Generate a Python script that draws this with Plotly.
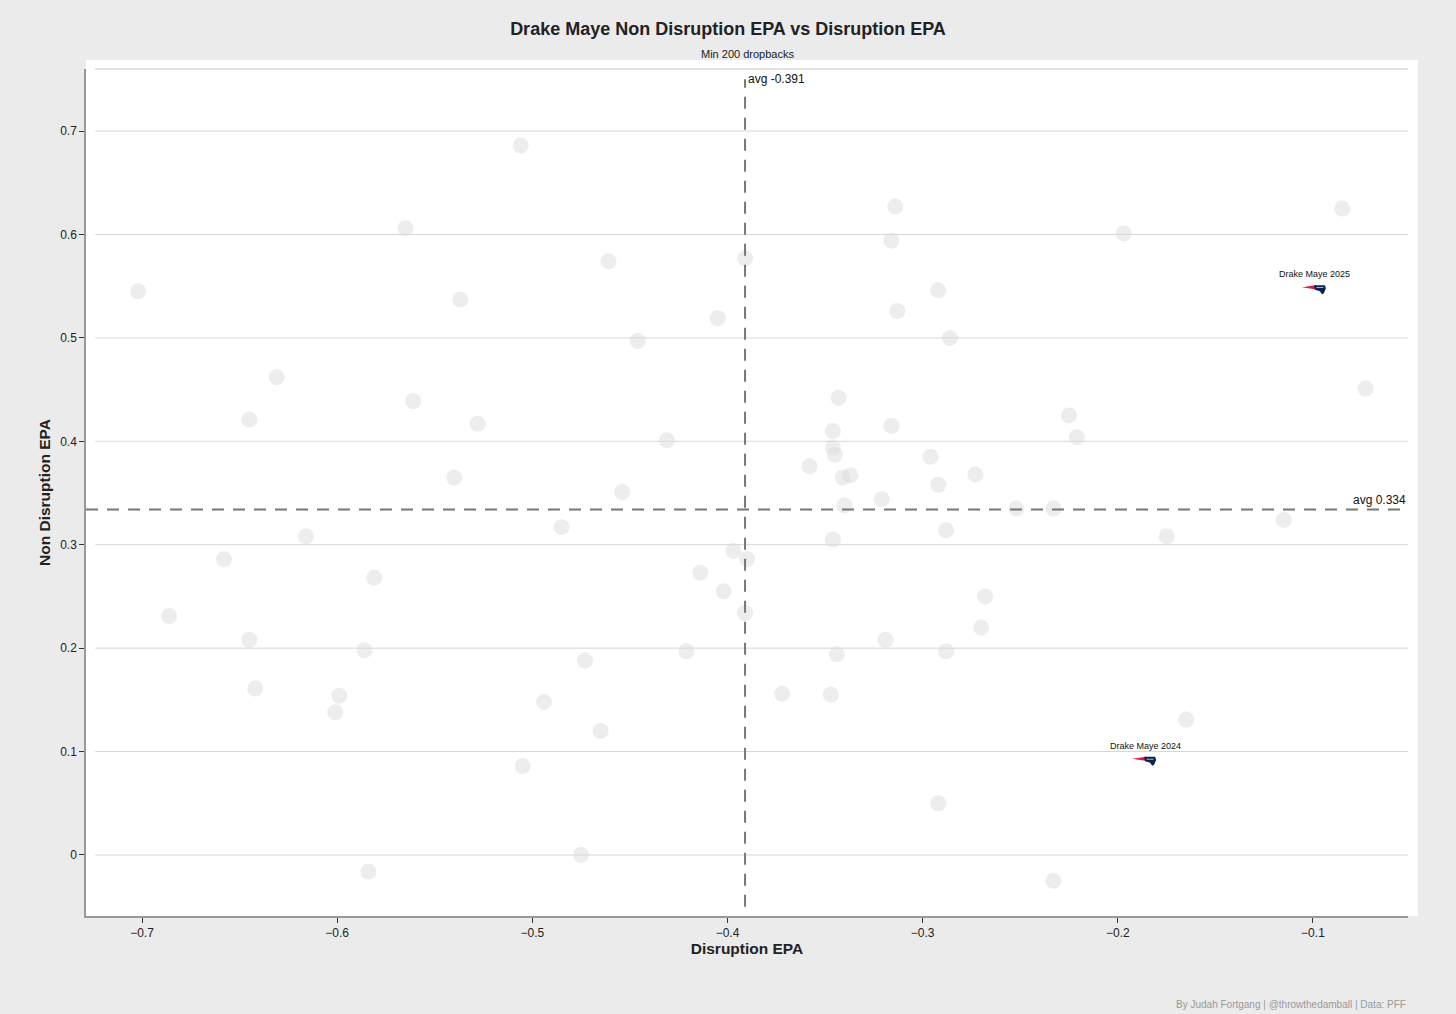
import plotly.graph_objects as go

# league QBs, min 200 dropbacks
disruption_epa = [
    -0.702, -0.686, -0.658, -0.645, -0.645, -0.642, -0.631, -0.616, -0.599, -0.601,
    -0.586, -0.584, -0.581, -0.565, -0.561, -0.540, -0.537, -0.528, -0.506, -0.505,
    -0.494, -0.485, -0.475, -0.473, -0.465, -0.461, -0.454, -0.446, -0.431, -0.421,
    -0.414, -0.405, -0.402, -0.397, -0.391, -0.390, -0.391, -0.372, -0.358, -0.347,
    -0.346, -0.346, -0.345, -0.346, -0.343, -0.344, -0.341, -0.340, -0.337, -0.321,
    -0.319, -0.316, -0.316, -0.314, -0.313, -0.296, -0.292, -0.292, -0.292, -0.288,
    -0.288, -0.286, -0.273, -0.270, -0.268, -0.252, -0.233, -0.233, -0.225, -0.221,
    -0.197, -0.175, -0.165, -0.115, -0.085, -0.073,
]
non_disruption_epa = [
    0.545, 0.231, 0.286, 0.421, 0.208, 0.161, 0.462, 0.308, 0.154, 0.138,
    0.198, -0.016, 0.268, 0.606, 0.439, 0.365, 0.537, 0.417, 0.686, 0.086,
    0.148, 0.317, 0.000, 0.188, 0.120, 0.574, 0.351, 0.497, 0.401, 0.197,
    0.273, 0.519, 0.255, 0.294, 0.577, 0.286, 0.234, 0.156, 0.376, 0.155,
    0.410, 0.305, 0.387, 0.394, 0.442, 0.194, 0.365, 0.338, 0.367, 0.344,
    0.208, 0.415, 0.594, 0.627, 0.526, 0.385, 0.546, 0.358, 0.050, 0.314,
    0.197, 0.500, 0.368, 0.220, 0.250, 0.335, 0.335, -0.025, 0.425, 0.404,
    0.601, 0.308, 0.131, 0.324, 0.625, 0.451,
]

# Drake Maye seasons
maye_labels = ["Drake Maye 2025", "Drake Maye 2024"]
maye_disruption = [-0.099, -0.186]
maye_non_disruption = [0.547, 0.091]

avg_disruption = -0.391
avg_non_disruption = 0.334

x_ticks = [-0.7, -0.6, -0.5, -0.4, -0.3, -0.2, -0.1]
y_ticks = [0, 0.1, 0.2, 0.3, 0.4, 0.5, 0.6, 0.7]

FONT = "Liberation Sans, Arial, sans-serif"

fig = go.Figure()

fig.add_trace(go.Scatter(
    x=disruption_epa, y=non_disruption_epa,
    mode="markers",
    marker=dict(size=16, color="#dcdcdc", opacity=0.5, line=dict(width=0)),
    showlegend=False, hoverinfo="skip"
))

# white panel, slightly bigger than the plot area
fig.add_shape(type="rect", xref="paper", yref="paper",
              x0=0, x1=1.0076, y0=0, y1=1.0106,
              fillcolor="white", line=dict(width=0), layer="below")

# gridlines (start a little inside the left axis, like the original)
for v in y_ticks:
    fig.add_shape(type="line", xref="paper", yref="y",
                  x0=0.007, x1=1, y0=v, y1=v,
                  line=dict(color="#d6d6d6", width=1), layer="below")
fig.add_shape(type="line", xref="paper", yref="paper",
              x0=0.007, x1=1, y0=1, y1=1,
              line=dict(color="#d6d6d6", width=1.5), layer="below")

# average lines
fig.add_shape(type="line", xref="x", yref="y",
              x0=avg_disruption, x1=avg_disruption, y0=-0.05, y1=0.75,
              line=dict(color="#777777", width=2, dash="12px,9px"))
fig.add_shape(type="line", xref="paper", yref="y",
              x0=0, x1=1, y0=avg_non_disruption, y1=avg_non_disruption,
              line=dict(color="#777777", width=2, dash="12px,9px"))

fig.add_annotation(x=avg_disruption, y=0.75, xref="x", yref="y",
                   text=f"avg {avg_disruption}", showarrow=False,
                   xanchor="left", yanchor="middle", xshift=1,
                   font=dict(size=12, color="#111111", family=FONT))
fig.add_annotation(x=1, y=avg_non_disruption, xref="paper", yref="y",
                   text=f"avg {avg_non_disruption}", showarrow=False,
                   xanchor="right", yanchor="bottom", yshift=1,
                   font=dict(size=12, color="#111111", family=FONT))

# patriots logo stand-ins (pixel-sized paths anchored at the data point)
swoosh = "M -13 2 L 1 4 L 0 0 Z"
head = "M -1 4 L 10 4 L 11 1 L 9 -4 L 7 -5 L 5 -2 L 0 -0.5 Z"
stripe = "M 1 2.2 L 9 2.2 L 8 1.2 L 2 1.2 Z"
for lx, ly, lab in zip(maye_disruption, maye_non_disruption, maye_labels):
    fig.add_shape(type="path", xref="x", yref="y", xsizemode="pixel", ysizemode="pixel",
                  xanchor=lx, yanchor=ly, path=swoosh,
                  fillcolor="#e4173b", line=dict(width=0))
    fig.add_shape(type="path", xref="x", yref="y", xsizemode="pixel", ysizemode="pixel",
                  xanchor=lx, yanchor=ly, path=head,
                  fillcolor="#0b2352", line=dict(width=0))
    fig.add_shape(type="path", xref="x", yref="y", xsizemode="pixel", ysizemode="pixel",
                  xanchor=lx, yanchor=ly, path=stripe,
                  fillcolor="#b0b7bc", line=dict(width=0))
    fig.add_annotation(x=lx, y=ly, xref="x", yref="y", text=lab, showarrow=False,
                       yshift=15, font=dict(size=9, color="#111111", family=FONT))

fig.add_annotation(x=0.5, y=1.0177, xref="paper", yref="paper",
                   text="Min 200 dropbacks", showarrow=False, yanchor="middle",
                   font=dict(size=11, color="#222222", family=FONT))
fig.add_annotation(x=1, y=-0.105, xref="paper", yref="paper",
                   text="By Judah Fortgang | @throwthedamball | Data: PFF",
                   showarrow=False, xanchor="right", yanchor="middle",
                   font=dict(size=10, color="#999999", family=FONT))

fig.update_layout(
    width=1456, height=1014,
    margin=dict(l=86, r=48, t=69, b=98),
    paper_bgcolor="#ebebeb", plot_bgcolor="white",
    font=dict(family=FONT, color="#333333"),
    title=dict(text="<b>Drake Maye Non Disruption EPA vs Disruption EPA</b>",
               x=0.5, xanchor="center", y=0.972, yanchor="middle", yref="container",
               font=dict(size=18, color="#222222", family=FONT)),
    showlegend=False,
    xaxis=dict(range=[-0.7287, -0.0513], tickvals=x_ticks,
               ticktext=[f"\u2212{abs(v):g}" for v in x_ticks],
               showgrid=False, zeroline=False,
               showline=True, linecolor="#999999", linewidth=1.5,
               ticks="outside", ticklen=5, tickcolor="#333333", tickwidth=1,
               tickfont=dict(size=12, color="#222222"),
               title=dict(text="<b>Disruption EPA</b>", standoff=4,
                          font=dict(size=15.5, color="#222222"))),
    yaxis=dict(range=[-0.059, 0.76], tickvals=y_ticks,
               ticktext=[f"{v:g}" for v in y_ticks],
               showgrid=False, zeroline=False,
               showline=True, linecolor="#999999", linewidth=1.5,
               ticks="outside", ticklen=5, tickcolor="#333333", tickwidth=1,
               tickfont=dict(size=12, color="#222222"),
               title=dict(text="<b>Non Disruption EPA</b>", standoff=6,
                          font=dict(size=15.5, color="#222222"))),
)

fig.write_html("out.html", config={"displayModeBar": False},
               post_script="document.body.style.margin='0';")
